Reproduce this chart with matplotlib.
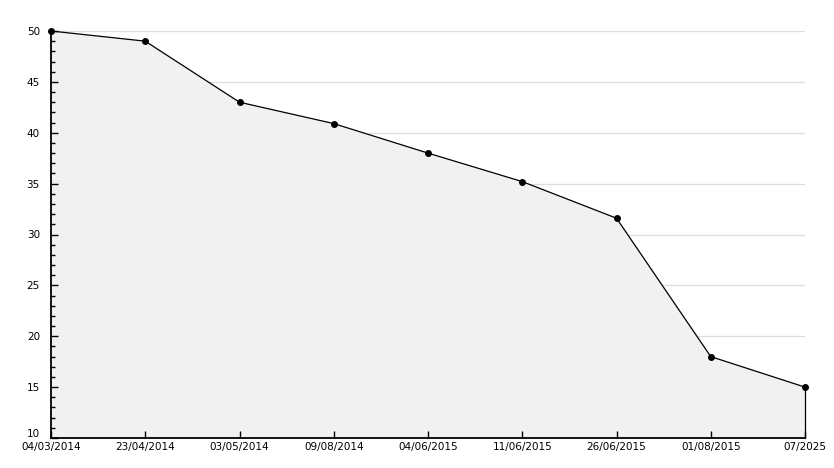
import matplotlib.pyplot as plt
from matplotlib.ticker import MultipleLocator

# données
dates = ['04/03/2014', '23/04/2014', '03/05/2014', '09/08/2014', '04/06/2015',
         '11/06/2015', '26/06/2015', '01/08/2015', '07/2025']
values = [50, 49, 43, 40.9, 38, 35.2, 31.6, 18, 15]
y_ticks = [10, 15, 20, 25, 30, 35, 40, 45, 50]

fig = plt.figure(figsize=(8.34, 4.68), dpi=100)
ax = fig.add_axes([51 / 834, 1 - 438 / 468, (805 - 51) / 834, (438 - 31) / 468])

x = list(range(len(dates)))
ax.fill_between(x, values, 10, color='#f1f1f1', zorder=1)
ax.plot(x, values, color='black', linewidth=0.9, marker='o', markersize=4, zorder=3, clip_on=False)
ax.plot([x[-1], x[-1]], [10, values[-1]], color='black', linewidth=0.9, zorder=3, clip_on=False)

for yv in y_ticks[1:]:
    ax.axhline(yv, color='#dddddd', linewidth=0.9, zorder=0)

ax.set_xlim(0, len(dates) - 1)
ax.set_ylim(10, 50)
ax.set_xticks(x)
ax.set_xticklabels(dates)
ax.set_yticks(y_ticks)
# le "10" est posé à part, un peu plus haut, comme sur l'original
ax.set_yticklabels([''] + [str(v) for v in y_ticks[1:]])
ax.yaxis.set_minor_locator(MultipleLocator(1))
ax.annotate(str(y_ticks[0]), xy=(0, y_ticks[0]), xycoords=('axes fraction', 'data'),
            xytext=(-8, 3), textcoords='offset points', ha='right', va='center', fontsize=7.5)

for s in ['top', 'right']:
    ax.spines[s].set_visible(False)
for s in ['left', 'bottom']:
    ax.spines[s].set_linewidth(1.3)

ax.tick_params(axis='y', which='major', direction='in', length=5, width=1, labelsize=7.5, pad=8)
ax.tick_params(axis='y', which='minor', direction='in', length=3, width=1)
ax.tick_params(axis='x', direction='in', length=5, width=1, labelsize=7.5, pad=3)

fig.savefig('out.png', dpi=100)
